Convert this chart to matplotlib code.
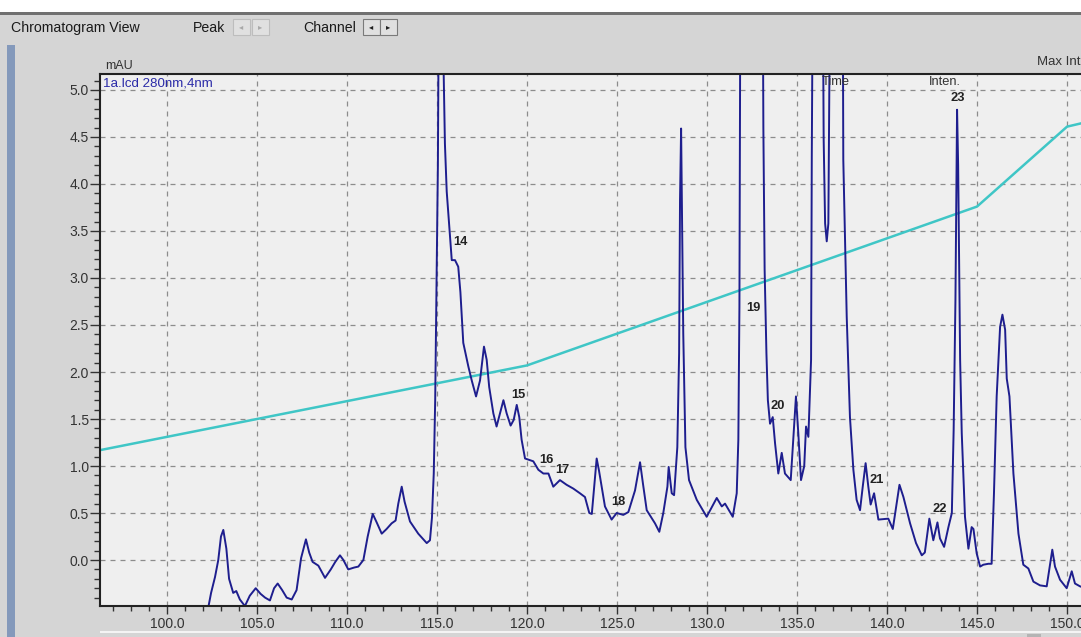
import matplotlib
matplotlib.use("Agg")
import matplotlib.pyplot as plt
from matplotlib.patches import Rectangle
from matplotlib.ticker import MultipleLocator, FormatStrFormatter

plt.rcParams['font.family'] = ['Liberation Sans', 'DejaVu Sans']

# chromatogram trace, 280 nm (retention time [min], signal [mAU])
rt = [102.2, 102.45, 102.67, 102.85, 103.0, 103.13, 103.3, 103.45, 103.68, 103.85,
      104.05, 104.33, 104.6, 104.93, 105.2, 105.45, 105.72, 105.95, 106.15, 106.4,
      106.65, 106.93, 107.2, 107.45, 107.72, 107.9, 108.09, 108.41, 108.78, 109.1,
      109.35, 109.61, 109.8, 110.07, 110.4, 110.63, 110.91, 111.15, 111.43, 111.65,
      111.93, 112.2, 112.48, 112.7, 112.85, 113.04, 113.2, 113.5, 113.96, 114.43,
      114.61, 114.72, 114.82, 114.9, 114.98, 115.05, 115.1, 115.2, 115.3, 115.36,
      115.44, 115.54, 115.68, 115.82, 116.0, 116.18, 116.3, 116.46, 116.74, 116.93,
      117.17, 117.39, 117.61, 117.76, 117.9, 118.13, 118.31, 118.5, 118.69, 118.87,
      119.09, 119.26, 119.43, 119.57, 119.7, 119.89, 120.35, 120.63, 120.91, 121.19,
      121.46, 121.83, 122.2, 122.57, 122.94, 123.22, 123.46, 123.6, 123.87, 124.0,
      124.33, 124.7, 124.98, 125.35, 125.63, 126.0, 126.28, 126.45, 126.65, 127.11,
      127.35, 127.57, 127.8, 127.87, 128.04, 128.17, 128.35, 128.45, 128.5, 128.56,
      128.62, 128.68, 128.8, 129.0, 129.43, 129.98, 130.54, 130.82, 131.0, 131.43,
      131.65, 131.74, 131.8, 131.85, 132.5, 133.1, 133.13, 133.2, 133.3, 133.38,
      133.5, 133.65, 133.78, 133.96, 134.15, 134.33, 134.65, 134.79, 134.94, 135.07,
      135.22, 135.4, 135.5, 135.63, 135.78, 135.82, 135.87, 136.15, 136.45, 136.48,
      136.56, 136.65, 136.74, 136.83, 137.2, 137.55, 137.57, 137.76, 137.94, 138.13,
      138.31, 138.5, 138.65, 138.81, 138.96, 139.09, 139.28, 139.52, 140.07, 140.32,
      140.69, 140.91, 141.28, 141.61, 141.93, 142.1, 142.35, 142.57, 142.8, 142.94,
      143.17, 143.41, 143.6, 143.7, 143.8, 143.89, 143.95, 144.06, 144.15, 144.33,
      144.52, 144.7, 144.8, 144.98, 145.17, 145.35, 145.63, 145.81, 145.94, 146.09,
      146.28, 146.41, 146.56, 146.65, 146.8, 147.02, 147.3, 147.57, 147.85, 148.13,
      148.5, 148.87, 149.18, 149.33, 149.61, 149.98, 150.26, 150.44, 150.72, 151.0]
mau = [-0.6, -0.35, -0.18, 0.0, 0.25, 0.32, 0.12, -0.2, -0.35, -0.33,
       -0.42, -0.49, -0.38, -0.30, -0.36, -0.40, -0.43, -0.30, -0.25, -0.32,
       -0.40, -0.42, -0.32, 0.02, 0.22, 0.08, -0.02, -0.06, -0.19, -0.10,
       -0.02, 0.05, 0.0, -0.10, -0.08, -0.07, 0.0, 0.25, 0.49, 0.40,
       0.28, 0.33, 0.39, 0.42, 0.60, 0.78, 0.62, 0.41, 0.28, 0.18,
       0.21, 0.45, 0.92, 1.70, 3.0, 4.2, 6.0, 8.5, 6.5, 5.3,
       4.43, 3.92, 3.55, 3.19, 3.19, 3.12, 2.85, 2.31, 2.06, 1.91,
       1.74, 1.91, 2.27, 2.13, 1.84, 1.56, 1.42, 1.56, 1.70, 1.56,
       1.43, 1.49, 1.65, 1.52, 1.28, 1.08, 1.05, 0.96, 0.92, 0.92,
       0.78, 0.85, 0.80, 0.76, 0.71, 0.67, 0.50, 0.49, 1.08, 0.95,
       0.57, 0.43, 0.50, 0.48, 0.51, 0.74, 1.04, 0.80, 0.53, 0.39,
       0.30, 0.50, 0.78, 0.99, 0.71, 0.69, 1.2, 2.2, 3.83, 4.59,
       3.55, 2.41, 1.2, 0.85, 0.64, 0.46, 0.66, 0.57, 0.60, 0.46,
       0.71, 1.28, 2.7, 6.0, 12.0, 6.0, 4.6, 3.09, 2.2, 1.70,
       1.45, 1.52, 1.24, 0.92, 1.14, 0.92, 0.85, 1.28, 1.74, 1.35,
       0.85, 1.00, 1.42, 1.31, 2.13, 4.3, 6.0, 9.0, 5.5, 4.47,
       3.58, 3.39, 3.58, 6.0, 10.0, 5.5, 4.26, 2.59, 1.52, 0.96,
       0.64, 0.53, 0.78, 1.03, 0.78, 0.59, 0.71, 0.43, 0.44, 0.33,
       0.80, 0.67, 0.39, 0.18, 0.05, 0.08, 0.44, 0.21, 0.40, 0.23,
       0.14, 0.35, 0.50, 1.38, 2.77, 4.79, 4.2, 2.13, 1.35, 0.46,
       0.12, 0.35, 0.33, 0.07, -0.07, -0.05, -0.04, -0.04, 0.71, 1.74,
       2.48, 2.61, 2.45, 1.93, 1.74, 0.92, 0.28, -0.05, -0.09, -0.23,
       -0.27, -0.28, 0.11, -0.07, -0.21, -0.30, -0.12, -0.25, -0.28, -0.3]

# gradient program trace (drawn in the same frame)
grad_t = [95.0, 120.0, 145.0, 150.0, 152.0]
grad_y = [1.12, 2.07, 3.76, 4.61, 4.70]

# peak numbers
peak_no = ['14', '15', '16', '17', '18', '19', '20', '21', '22', '23']
peak_t = [116.28, 119.5, 121.06, 121.94, 125.06, 132.6, 133.9, 139.44, 142.94, 143.94]
peak_y = [3.38, 1.76, 1.06, 0.96, 0.62, 2.68, 1.64, 0.85, 0.54, 4.92]

W, H = 1081, 637


def fx(px):
    return px / W


def fy(py):
    return 1 - py / H


fig = plt.figure(figsize=(W / 100, H / 100), dpi=100, facecolor='#d5d5d5')

# window chrome
fig.patches.append(Rectangle((0, fy(12)), 1, 12 / H, transform=fig.transFigure,
                             facecolor='white', edgecolor='none'))
fig.patches.append(Rectangle((0, fy(15)), 1, 3 / H, transform=fig.transFigure,
                             facecolor='#707070', edgecolor='none'))
fig.patches.append(Rectangle((fx(7), 0), 8 / W, fy(45), transform=fig.transFigure,
                             facecolor='#8499bb', edgecolor='none'))
fig.patches.append(Rectangle((fx(100), fy(633)), 1, 2 / H, transform=fig.transFigure,
                             facecolor='#f4f4f4', edgecolor='none'))
fig.patches.append(Rectangle((fx(1027), 0), 14 / W, 3 / H, transform=fig.transFigure,
                             facecolor='#b4b4b4', edgecolor='none'))
fig.text(fx(11), fy(28), 'Chromatogram View', fontsize=10.2, color='#1a1a1a', va='center')
fig.text(fx(193), fy(28), 'Peak', fontsize=10.2, color='#1a1a1a', va='center')
fig.text(fx(303), fy(28), 'Channel', fontsize=10.2, color='#1a1a1a', va='center')
for bx, ec in [(233, '#bdbdbd'), (252, '#bdbdbd'), (363, '#7a7a7a'), (380, '#7a7a7a')]:
    fig.patches.append(Rectangle((fx(bx), fy(35)), 17 / W, 16 / H, transform=fig.transFigure,
                                 facecolor='#e0e0e0', edgecolor=ec, linewidth=0.8))
fig.text(fx(241.5), fy(27.5), '◂', fontsize=6, color='#a8a8a8', ha='center', va='center')
fig.text(fx(260.5), fy(27.5), '▸', fontsize=6, color='#a8a8a8', ha='center', va='center')
fig.text(fx(371.5), fy(27.5), '◂', fontsize=6, color='#202020', ha='center', va='center')
fig.text(fx(388.5), fy(27.5), '▸', fontsize=6, color='#202020', ha='center', va='center')
fig.text(fx(105), fy(66), 'mAU', fontsize=9, color='#333333', va='center')
fig.text(fx(1037), fy(62), 'Max Inten.', fontsize=9.5, color='#333333', va='center')

# plot area: x 100..1100 px, y 74..606 px
ax = fig.add_axes([fx(100), fy(605.7), fx(1100) - fx(100), (605.7 - 74) / H])
ax.set_facecolor('#efefef')
ax.set_xlim(96.28, 151.83)
ax.set_ylim(-0.486, 5.17)

ax.plot(grad_t, grad_y, color='#3fc6c6', linewidth=1.8)
ax.plot(rt, mau, color='#1e1e8e', linewidth=1.4)

for lab, t, y in zip(peak_no, peak_t, peak_y):
    ax.text(t, y, lab, fontsize=9.3, fontweight='bold', color='#222222', ha='center', va='center')
ax.text(136.39, 5.08, 'Time', fontsize=9.3, color='#333333', ha='left', va='center')
ax.text(142.3, 5.08, 'Inten.', fontsize=9.3, color='#333333', ha='left', va='center')
ax.text(96.45, 5.07, '1a.lcd 280nm,4nm', fontsize=9.6, color='#2b2ba8', va='center')

ax.xaxis.set_major_locator(MultipleLocator(5))
ax.xaxis.set_minor_locator(MultipleLocator(1))
ax.yaxis.set_major_locator(MultipleLocator(0.5))
ax.yaxis.set_minor_locator(MultipleLocator(0.1))
ax.xaxis.set_major_formatter(FormatStrFormatter('%.1f'))
ax.yaxis.set_major_formatter(FormatStrFormatter('%.1f'))
ax.tick_params(axis='x', which='major', length=6, width=1, labelsize=10, colors='#333333', pad=2)
ax.tick_params(axis='x', which='minor', length=3.5, width=1, colors='#333333')
ax.tick_params(axis='y', which='major', length=7, width=1, labelsize=10, colors='#333333', pad=1)
ax.tick_params(axis='y', which='minor', length=4, width=1, colors='#333333')
ax.grid(True, which='major', color='#8c8c8c', linestyle=(0, (4, 4)), linewidth=0.9)
for s in ['top', 'left', 'bottom']:
    ax.spines[s].set_color('#222222')
    ax.spines[s].set_linewidth(1.5)
ax.spines['right'].set_visible(False)

plt.savefig('out.png', dpi=100, facecolor=fig.get_facecolor())
